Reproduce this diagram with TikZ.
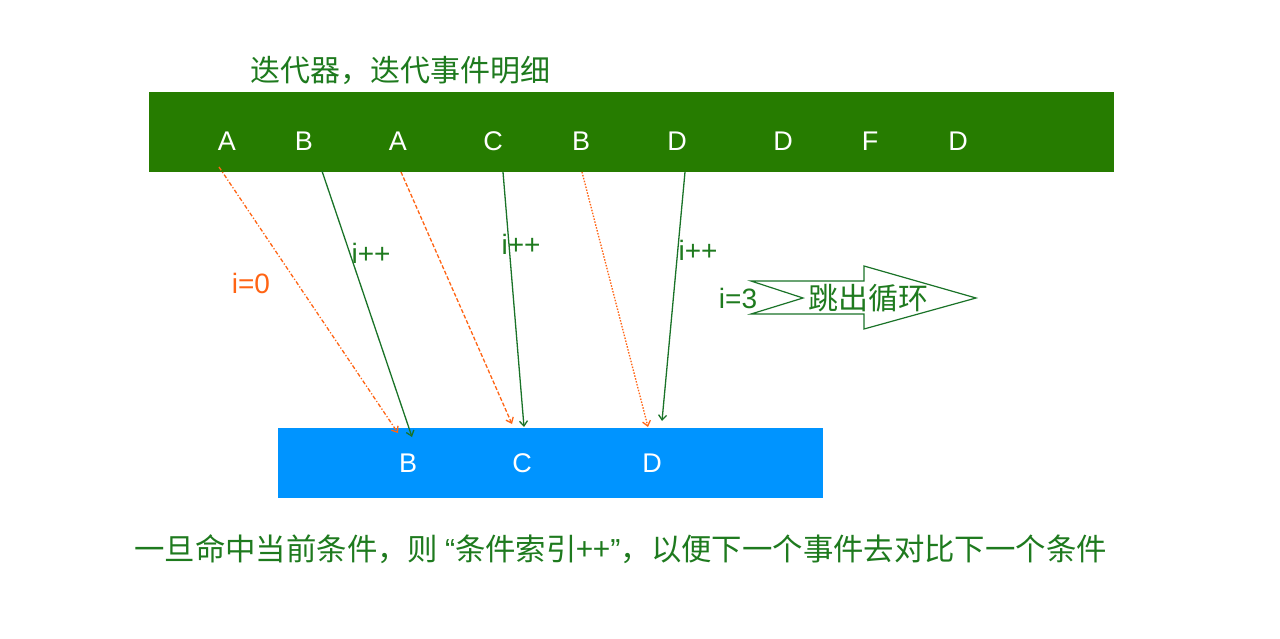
\documentclass[tikz,border=0pt]{standalone}
\usepackage{fontspec}
\setmainfont{Liberation Sans}
\newfontfamily\cjk{Noto Sans CJK SC}
\usetikzlibrary{arrows.meta}
\definecolor{barGreen}{HTML}{267C00}
\definecolor{txtGreen}{HTML}{1E7A1E}
\definecolor{lineGreen}{HTML}{1A7328}
\definecolor{orng}{HTML}{FF6414}
\definecolor{barBlue}{HTML}{0094FF}
\newcommand{\myLQ}{{\rmfamily “}}
\newcommand{\myRQ}{{\rmfamily ”}}
\tikzset{
  letter/.style={text=white,font=\fontsize{27}{27}\selectfont,inner sep=0pt},
  glab/.style={text=txtGreen,font=\fontsize{28}{28}\selectfont,inner sep=0pt},
  olab/.style={text=orng,font=\fontsize{28}{28}\selectfont,inner sep=0pt},
  gline/.style={draw=lineGreen,line width=1.3pt,-{Straight Barb[length=5pt,width=8pt]}},
  oline/.style={draw=orng,line width=1.3pt,-{Straight Barb[length=5pt,width=8pt]}},
  cjktxt/.style={text=txtGreen,font=\cjk\fontsize{30}{30}\selectfont,inner sep=0pt}
}
\begin{document}
\begin{tikzpicture}[x=1pt,y=-1pt]
\useasboundingbox (0,0) rectangle (1280,638);
% title
\node[cjktxt,anchor=west] (title) at (250,70) {迭代器，迭代事件明细};
% green bar
\fill[barGreen] (149,92) rectangle (1114,172);
\node[letter] (a1) at (227,141) {A};
\node[letter] (b1) at (304,141) {B};
\node[letter] (a2) at (398,141) {A};
\node[letter] (c1) at (493,141) {C};
\node[letter] (b2) at (581,141) {B};
\node[letter] (d1) at (677,141) {D};
\node[letter] (d2) at (783,141) {D};
\node[letter] (f1) at (870,141) {F};
\node[letter] (d3) at (958,141) {D};
% blue bar
\fill[barBlue] (278,428) rectangle (823,498);
\node[letter] (bb) at (408,463) {B};
\node[letter] (bc) at (522,463) {C};
\node[letter] (bd) at (652,463) {D};
% connector ends
\coordinate (s1) at (219,167);
\coordinate (e1) at (398,433);
\coordinate (s2) at (322,171);
\coordinate (e2) at (412,437);
\coordinate (s3) at (401,172);
\coordinate (e3) at (512,424);
\coordinate (s4) at (503,172);
\coordinate (e4) at (524,427);
\coordinate (s5) at (582,172);
\coordinate (e5) at (648,427);
\coordinate (s6) at (685,172);
\coordinate (e6) at (662,421);
\draw[oline,dash pattern=on 4pt off 2pt on 1.2pt off 2pt] (s1) -- (e1);
\draw[gline] (s2) -- (e2);
\draw[oline,dash pattern=on 4pt off 2pt] (s3) -- (e3);
\draw[gline] (s4) -- (e4);
\draw[oline,dash pattern=on 1.5pt off 1.5pt] (s5) -- (e5);
\draw[gline] (s6) -- (e6);
% labels
\node[olab] (l0) at (251,283) {i=0};
\node[glab] (l1) at (371,253) {i++};
\node[glab] (l2) at (521,244) {i++};
\node[glab] (l3) at (698,250) {i++};
\node[glab] (l4) at (738,298) {i=3};
% notched arrow
\draw[lineGreen,line width=1.2pt,fill=white,line join=miter]
  (751,281) -- (864,281) -- (864,266) -- (976,298) -- (864,329) -- (864,314)
  -- (751,314) -- (803,298) -- cycle;
\node[cjktxt] (jump) at (868,298) {跳出循环};
% bottom text
\node[cjktxt,anchor=west,font=\cjk\fontsize{30.4}{30.4}\selectfont] (note) at (134,549) {一旦命中当前条件，则 \myLQ 条件索引++\myRQ ，以便下一个事件去对比下一个条件};
\end{tikzpicture}
\end{document}
